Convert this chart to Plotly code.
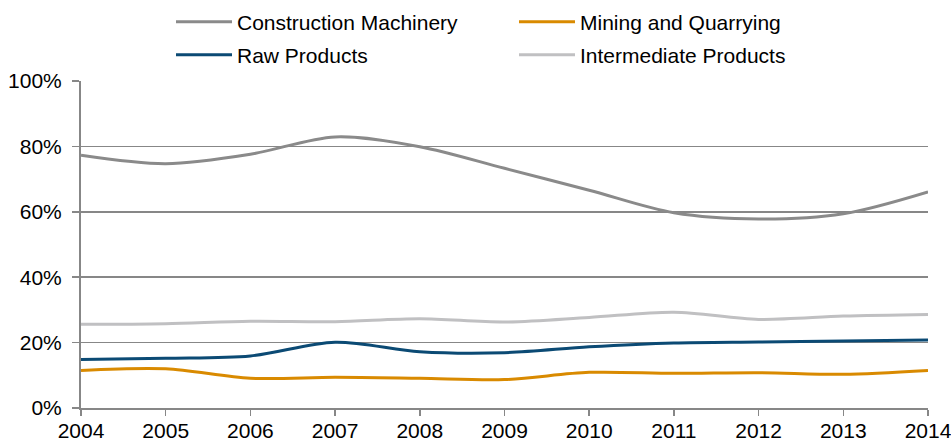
import plotly.graph_objects as go

years = [2004, 2005, 2006, 2007, 2008, 2009, 2010, 2011, 2012, 2013, 2014]
construction = [77.3, 74.7, 77.6, 82.9, 79.9, 73.3, 66.6, 59.7, 57.8, 59.4, 66.1]
mining = [11.5, 12.0, 9.1, 9.4, 9.1, 8.7, 10.9, 10.6, 10.8, 10.3, 11.5]
raw = [14.8, 15.2, 15.9, 20.1, 17.2, 16.9, 18.7, 19.9, 20.2, 20.5, 20.8]
intermediate = [25.6, 25.8, 26.5, 26.4, 27.3, 26.3, 27.7, 29.3, 27.1, 28.1, 28.6]

y_ticks = [0, 20, 40, 60, 80, 100]
y_labels = ["0%", "20%", "40%", "60%", "80%", "100%"]

series = [
    ("Construction Machinery", construction, "#8a8a8a", "legend"),
    ("Mining and Quarrying", mining, "#d98a00", "legend"),
    ("Raw Products", raw, "#0b4a74", "legend2"),
    ("Intermediate Products", intermediate, "#c0c0c2", "legend2"),
]

FONT = "Liberation Sans, Arial, sans-serif"
fig = go.Figure()
for name, vals, color, leg in series:
    fig.add_trace(go.Scatter(
        x=years, y=vals, name=name, mode="lines",
        line=dict(color=color, width=3, shape="spline", smoothing=0.9),
        legend=leg,
    ))

legend_common = dict(
    orientation="h", xref="container", yref="container",
    xanchor="left", yanchor="middle",
    font=dict(family=FONT, size=21, color="#000000"),
    entrywidth=272, itemwidth=56, bgcolor="rgba(0,0,0,0)", borderwidth=0,
    itemclick=False, itemdoubleclick=False,
)

fig.update_layout(
    width=951, height=442,
    margin=dict(l=81, r=23, t=81, b=34, autoexpand=False),
    paper_bgcolor="white", plot_bgcolor="white",
    font=dict(family=FONT, size=21, color="#000000"),
    showlegend=True,
    legend=dict(x=171/951, y=1 - 22/442, **legend_common),
    legend2=dict(x=171/951, y=1 - 55/442, **legend_common),
    xaxis=dict(
        range=[2004, 2014], tickmode="array", tickvals=years,
        ticktext=[str(y) for y in years],
        showgrid=False, showline=True, linecolor="#878787", linewidth=2,
        ticks="outside", ticklen=6, tickwidth=1.5, tickcolor="#878787",
        zeroline=False, tickfont=dict(size=21, family=FONT),
        ticklabeloverflow="allow", automargin=False, ticklabelstandoff=-3,
    ),
    yaxis=dict(
        range=[0, 100], tickmode="array", tickvals=y_ticks, ticktext=y_labels,
        showgrid=True, gridcolor="#878787", gridwidth=1.5,
        showline=True, linecolor="#878787", linewidth=2,
        ticks="outside", ticklen=7, tickwidth=1.5, tickcolor="#878787",
        zeroline=False, ticklabelstandoff=6, tickfont=dict(size=21, family=FONT),
        automargin=False,
    ),
)

fig.write_html(
    "out.html",
    config={"displayModeBar": False, "staticPlot": True},
    post_script="document.body.style.margin='0';document.body.style.overflow='hidden';",
)
